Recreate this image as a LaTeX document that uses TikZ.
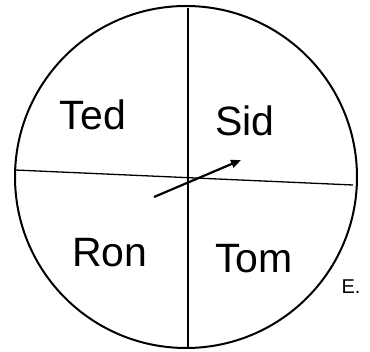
\documentclass[tikz,border=0pt]{standalone}
\usepackage{fontspec}
\setmainfont{Liberation Sans}
\usetikzlibrary{arrows.meta}
\begin{document}
\begin{tikzpicture}[x=1pt,y=-1pt,
  lbl/.style={font=\fontsize{41}{41}\selectfont, inner sep=0pt},
  rim/.style={draw, line width=2pt},
  divider/.style={line width=1.3pt},
  pointer/.style={line width=2.2pt, -{Triangle[length=10pt,width=8pt]}}]
\useasboundingbox (0,0) rectangle (370,352);
\node[rim, circle, minimum size=342pt, inner sep=0pt] (wheel) at (186,177) {};
\coordinate (top) at (188,8);
\coordinate (bot) at (188,347);
\coordinate (lft) at (15,170);
\coordinate (rgt) at (353,185);
\coordinate (tail) at (154,197);
\coordinate (head) at (241,160);
\draw[divider] (top) -- (bot);
\draw[divider] (lft) -- (rgt);
\draw[pointer] (tail) -- (head);
\node[lbl] (ted) at (93,115) {Ted};
\node[lbl] (sid) at (245,121) {Sid};
\node[lbl] (ron) at (110,253) {Ron};
\node[lbl] (tom) at (254,259) {Tom};
\node[font=\fontsize{20}{20}\selectfont, inner sep=0pt] (e) at (351,287) {E.};
\end{tikzpicture}
\end{document}
